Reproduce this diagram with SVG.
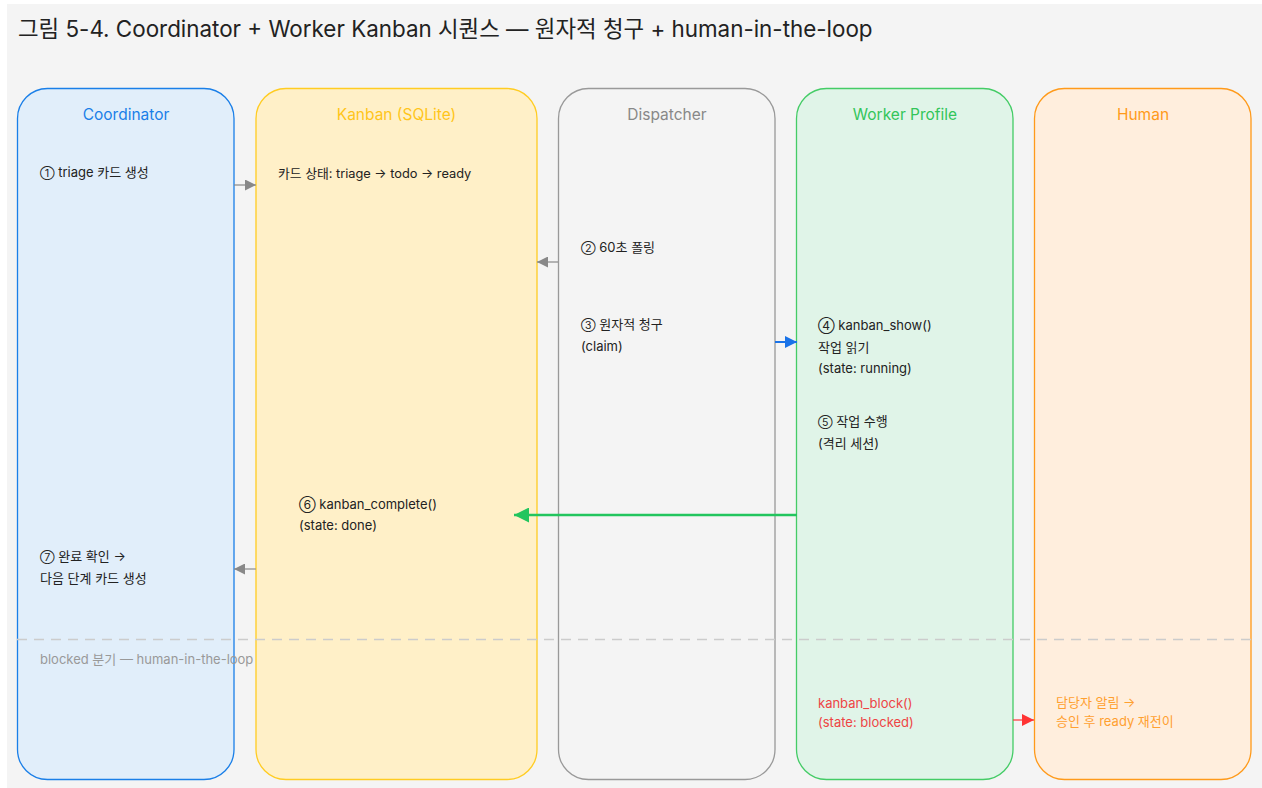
<svg xmlns="http://www.w3.org/2000/svg" width="1262" height="788" viewBox="0 0 1262 788">
  <style>
    text { font-family: Inter, "Noto Sans", "Noto Sans CJK KR", sans-serif; }
    .title { font-size: 22.4px; fill: #222222; }
    .head { font-size: 15.5px; text-anchor: middle; }
    .step { font-size: 13px; fill: #222222; }
    .num { font-size: 10.5px; }
    .note { font-size: 13px; fill: #999999; }
    .warn { fill: #ee4444; }
    .ask { fill: #ffa030; }
    .lane { stroke-width: 1.3; }
    .conn { fill: none; }
  </style>
  <defs>
    <marker id="arrGray" viewBox="0 0 10 10" refX="10" refY="5" markerWidth="11" markerHeight="11" markerUnits="userSpaceOnUse" orient="auto">
      <path d="M0,0 L10,5 L0,10 Z" fill="#888888"/>
    </marker>
    <marker id="arrBlue" viewBox="0 0 10 10" refX="10" refY="5" markerWidth="12" markerHeight="12" markerUnits="userSpaceOnUse" orient="auto">
      <path d="M0,0 L10,5 L0,10 Z" fill="#1a73e8"/>
    </marker>
    <marker id="arrGreen" viewBox="0 0 10 10" refX="10" refY="5" markerWidth="17" markerHeight="15" markerUnits="userSpaceOnUse" orient="auto">
      <path d="M0,0 L10,5 L0,10 Z" fill="#22c55e"/>
    </marker>
    <marker id="arrRed" viewBox="0 0 10 10" refX="10" refY="5" markerWidth="12" markerHeight="12" markerUnits="userSpaceOnUse" orient="auto">
      <path d="M0,0 L10,5 L0,10 Z" fill="#ff3333"/>
    </marker>
  </defs>

  <!-- canvas -->
  <rect x="0" y="0" width="1262" height="788" fill="#ffffff"/>
  <rect x="7" y="4" width="1255" height="784" fill="#f4f4f4"/>

  <text class="title" x="18" y="37">그림 5-4. Coordinator + Worker Kanban 시퀀스 — 원자적 청구 + human-in-the-loop</text>

  <!-- lanes -->
  <g id="coordinator">
    <rect class="lane" x="17.5" y="88.5" width="216.5" height="691" rx="30" fill="#e1eefa" stroke="#1a7fe8"/>
    <text class="head" x="126" y="120" fill="#1a7fe8">Coordinator</text>
    <text class="step" x="40" y="177"><tspan class="num">①</tspan> triage 카드 생성</text>
    <text class="step" x="40" y="561"><tspan class="num">⑦</tspan> 완료 확인 →</text>
    <text class="step" x="40" y="583">다음 단계 카드 생성</text>
  </g>

  <g id="kanban">
    <rect class="lane" x="256" y="88.5" width="281" height="691" rx="30" fill="#fff0c8" stroke="#ffcc22"/>
    <text class="head" x="396.5" y="120" fill="#ffc51a">Kanban (SQLite)</text>
    <text class="step" x="278" y="178" style="font-size:12.8px">카드 상태: triage → todo → ready</text>
    <text class="step" x="299" y="509"><tspan class="num" style="font-size:12px">⑥</tspan> kanban_complete()</text>
    <text class="step" x="299" y="530">(state: done)</text>
  </g>

  <g id="dispatcher">
    <rect class="lane" x="558.5" y="88.5" width="216.5" height="691" rx="30" fill="#f4f4f4" stroke="#999999"/>
    <text class="head" x="667" y="120" fill="#888888">Dispatcher</text>
    <text class="step" x="581" y="252"><tspan class="num">②</tspan> 60초 폴링</text>
    <text class="step" x="581" y="329"><tspan class="num">③</tspan> 원자적 청구</text>
    <text class="step" x="581" y="351">(claim)</text>
  </g>

  <g id="worker">
    <rect class="lane" x="796.5" y="88.5" width="216.5" height="691" rx="30" fill="#e0f4e8" stroke="#44cc66"/>
    <text class="head" x="905" y="120" fill="#33c55a">Worker Profile</text>
    <text class="step" x="818" y="330"><tspan class="num" style="font-size:12px">④</tspan> kanban_show()</text>
    <text class="step" x="818" y="352">작업 읽기</text>
    <text class="step" x="818" y="373">(state: running)</text>
    <text class="step" x="818" y="426"><tspan class="num">⑤</tspan> 작업 수행</text>
    <text class="step" x="818" y="448">(격리 세션)</text>
    <text class="step warn" x="818" y="708">kanban_block()</text>
    <text class="step warn" x="818" y="727">(state: blocked)</text>
  </g>

  <g id="human">
    <rect class="lane" x="1034.5" y="88.5" width="216.5" height="691" rx="30" fill="#ffeedd" stroke="#ff9a1a"/>
    <text class="head" x="1143" y="120" fill="#ff9a1a">Human</text>
    <text class="step ask" x="1056" y="707">담당자 알림 →</text>
    <text class="step ask" x="1056" y="726">승인 후 ready 재전이</text>
  </g>

  <!-- blocked branch divider -->
  <g id="blocked-branch">
    <line x1="17" y1="639.5" x2="1255" y2="639.5" stroke="#cccccc" stroke-width="1.3" stroke-dasharray="10 7"/>
    <text class="note" x="40" y="664">blocked 분기 — human-in-the-loop</text>
  </g>

  <!-- connectors -->
  <g id="connectors" class="conn">
    <line x1="234" y1="185" x2="256" y2="185" stroke="#888888" stroke-width="1.2" marker-end="url(#arrGray)"/>
    <line x1="558" y1="262" x2="537" y2="262" stroke="#888888" stroke-width="1.2" marker-end="url(#arrGray)"/>
    <line x1="775" y1="342" x2="797" y2="342" stroke="#1a73e8" stroke-width="2" marker-end="url(#arrBlue)"/>
    <line x1="797" y1="515" x2="514" y2="515" stroke="#22c55e" stroke-width="2.5" marker-end="url(#arrGreen)"/>
    <line x1="256" y1="569" x2="234" y2="569" stroke="#888888" stroke-width="1.2" marker-end="url(#arrGray)"/>
    <line x1="1013" y1="720" x2="1034" y2="720" stroke="#ff3333" stroke-width="1.2" marker-end="url(#arrRed)"/>
  </g>
</svg>
